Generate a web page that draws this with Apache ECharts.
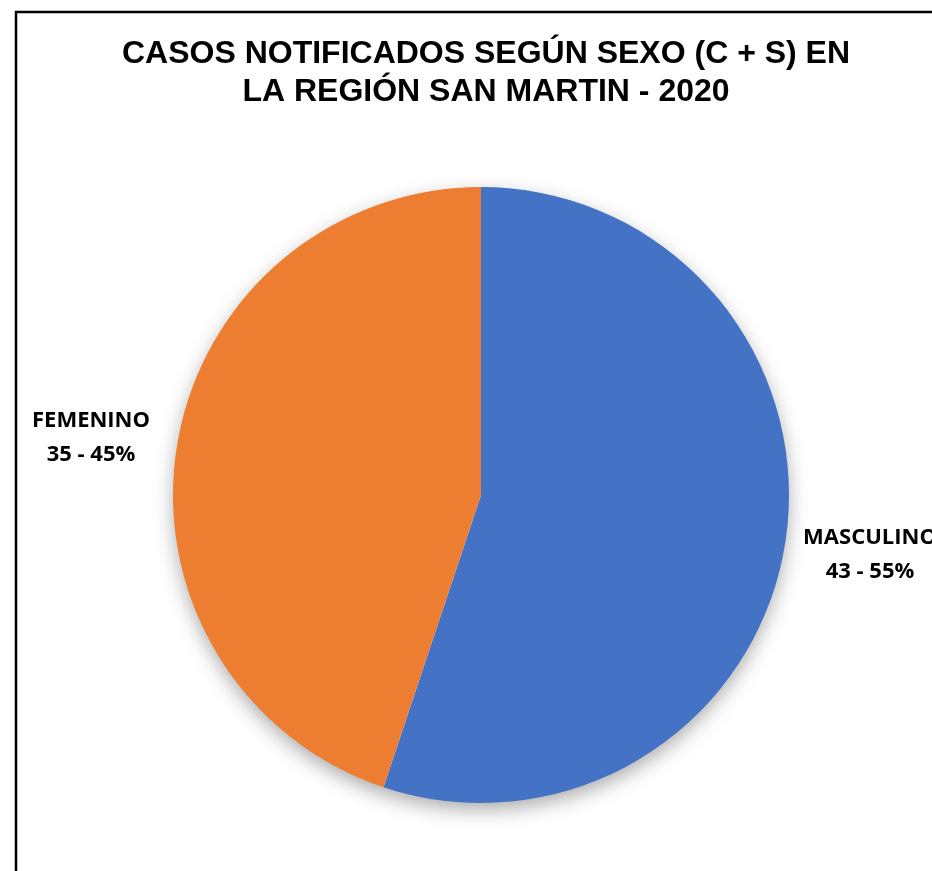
<!DOCTYPE html>
<html><head><meta charset="utf-8">
<script src="https://cdn.jsdelivr.net/npm/echarts@6/dist/echarts.min.js"></script>
<style>html,body{margin:0;padding:0;background:#fff;}#c{width:932px;height:871px;}</style>
</head><body><div id="c"></div>
<script>
const titleText = 'CASOS NOTIFICADOS SEGÚN SEXO (C + S) EN\nLA REGIÓN SAN MARTIN - 2020';
const categories = ['MASCULINO', 'FEMENINO'];
const values = [43, 35];
const colors = ['#4472C4', '#ED7D31'];
const labelPos = [[870, 555], [91, 438]];
const total = values.reduce((a, b) => a + b, 0);

const chart = echarts.init(document.getElementById('c'), null, {renderer: 'canvas'});
chart.setOption({
  backgroundColor: '#fff',
  animation: false,
  title: {
    text: titleText,
    left: 481, top: 30, textAlign: 'center',
    textStyle: {fontFamily: 'Liberation Sans', fontWeight: 'bold', fontSize: 32, lineHeight: 38, color: '#000'}
  },
  graphic: [
    {type: 'line', shape: {x1: 15, y1: 12, x2: 932, y2: 12}, style: {stroke: '#000', lineWidth: 2.5}},
    {type: 'line', shape: {x1: 16, y1: 11, x2: 16, y2: 871}, style: {stroke: '#000', lineWidth: 2.5}}
  ],
  series: [{
    type: 'pie',
    z: 1,
    silent: true,
    center: [481, 495],
    radius: 307,
    startAngle: 90,
    data: [{name: 'shadow', value: total, itemStyle: {color: '#fff', shadowBlur: 20, shadowColor: 'rgba(0,0,0,0.35)', shadowOffsetY: 7}}],
    label: {show: false},
    labelLine: {show: false},
    emphasis: {disabled: true}
  }, {
    type: 'pie',
    z: 2,
    center: [481, 495],
    radius: 308,
    startAngle: 90,
    clockwise: true,
    percentPrecision: 0,
    data: categories.map((n, i) => ({name: n, value: values[i], itemStyle: {color: colors[i]}})),
    itemStyle: {borderWidth: 0},
    label: {
      show: true,
      position: 'outside',
      alignTo: 'none',
      overflow: 'none',
      formatter: '{b}\n{c} - {d}%',
      fontFamily: 'Open Sans', fontWeight: 'bold', fontSize: 22, lineHeight: 34, color: '#000', align: 'center'
    },
    labelLine: {show: false},
    labelLayout: function (p) {
      const pos = labelPos[p.dataIndex];
      return {x: pos[0], y: pos[1], align: 'center', verticalAlign: 'middle'};
    },
    emphasis: {disabled: true}
  }]
});
</script></body></html>
